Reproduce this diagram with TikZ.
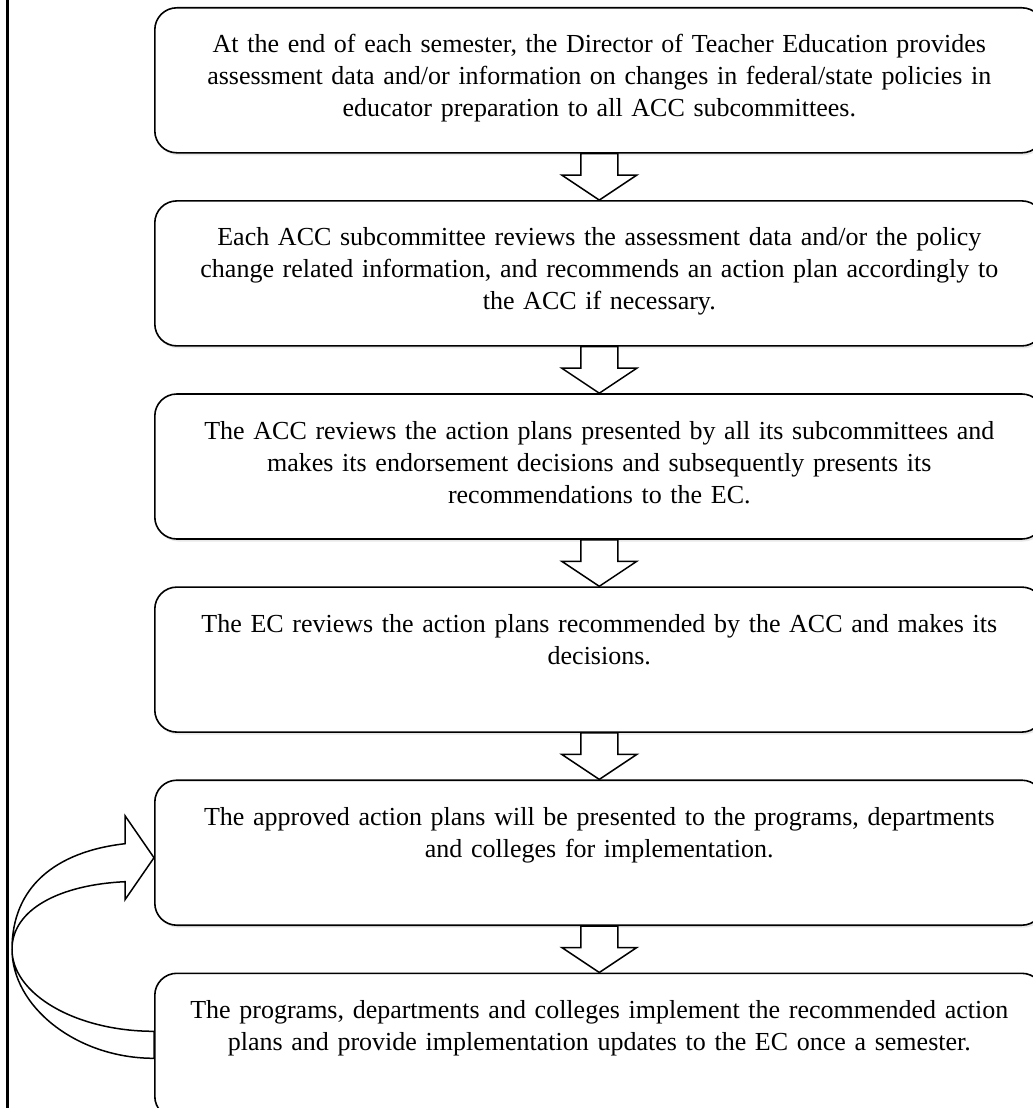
\documentclass[tikz,border=0pt]{standalone}
\usepackage{fontspec}
\setmainfont{Liberation Serif}
\usetikzlibrary{positioning,calc,shadows}

\begin{document}
\begin{tikzpicture}[
    x=1pt, y=1pt,
    node distance=46.5pt,
    stepbox/.style={rectangle,draw,line width=1.6pt,rounded corners=22pt,fill=white,
        minimum width=889pt,minimum height=145pt,text width=870pt,align=center,
        inner sep=0pt,text height=45pt,text depth=100pt,font=\fontsize{26}{32}\selectfont,
        drop shadow={opacity=0.18,shadow xshift=1.5pt,shadow yshift=-2.5pt}},
    hollow/.style={draw,line width=1.5pt,fill=white,line join=miter}
]
    \useasboundingbox (0,0) rectangle (1033,-1108);
    \draw[line width=2.2pt] (7.5,0) -- (7.5,-1108);

    \node[stepbox,anchor=north west] at (154,-7) (report) {At the end of each semester, the Director of Teacher Education provides\\assessment data and/or information on changes in federal/state policies in\\educator preparation to all ACC subcommittees.};
    \node[stepbox,below=of report] (subcomm) {Each ACC subcommittee reviews the assessment data and/or the policy\\change related information, and recommends an action plan accordingly to\\the ACC if necessary.};
    \node[stepbox,below=of subcomm] (acc) {The ACC reviews the action plans presented by all its subcommittees and\\makes its endorsement decisions and subsequently presents its\\recommendations to the EC.};
    \node[stepbox,below=of acc] (ec) {The EC reviews the action plans recommended by the ACC and makes its\\decisions.};
    \node[stepbox,below=of ec] (approve) {The approved action plans will be presented to the programs, departments\\and colleges for implementation.};
    \node[stepbox,below=of approve] (implement) {The programs, departments and colleges implement the recommended action\\plans and provide implementation updates to the EC once a semester.};

    \foreach \a/\b in {report/subcomm,subcomm/acc,acc/ec,ec/approve,approve/implement}
        \draw[hollow] ($(\a.south)+(-18.5,0)$) -- ($(\b.north)+(-18.5,25)$) -- ($(\b.north)+(-37.5,25)$)
            -- (\b.north) -- ($(\b.north)+(37.5,25)$) -- ($(\b.north)+(18.5,25)$) -- ($(\a.south)+(18.5,0)$) -- cycle;

    \coordinate (loop) at ($(approve.west)!.5!(implement.west)+(-142,0)$);
    \draw[hollow] ($(implement.west)+(0,-12.5)$) .. controls +(-78,0) and +(0,-57) .. (loop)
        .. controls +(0,62) and +(-70,-8) .. ($(approve.west)+(-29,9)$) -- ++(0,28)
        -- ($(approve.west)+(0,-5)$) -- ($(approve.west)+(-29,-47)$) -- ++(0,18)
        .. controls +(-65,-3) and +(0,40) .. (loop)
        .. controls +(0,-45) and +(-78,0) .. ($(implement.west)+(0,14.5)$) -- cycle;
\end{tikzpicture}
\end{document}
